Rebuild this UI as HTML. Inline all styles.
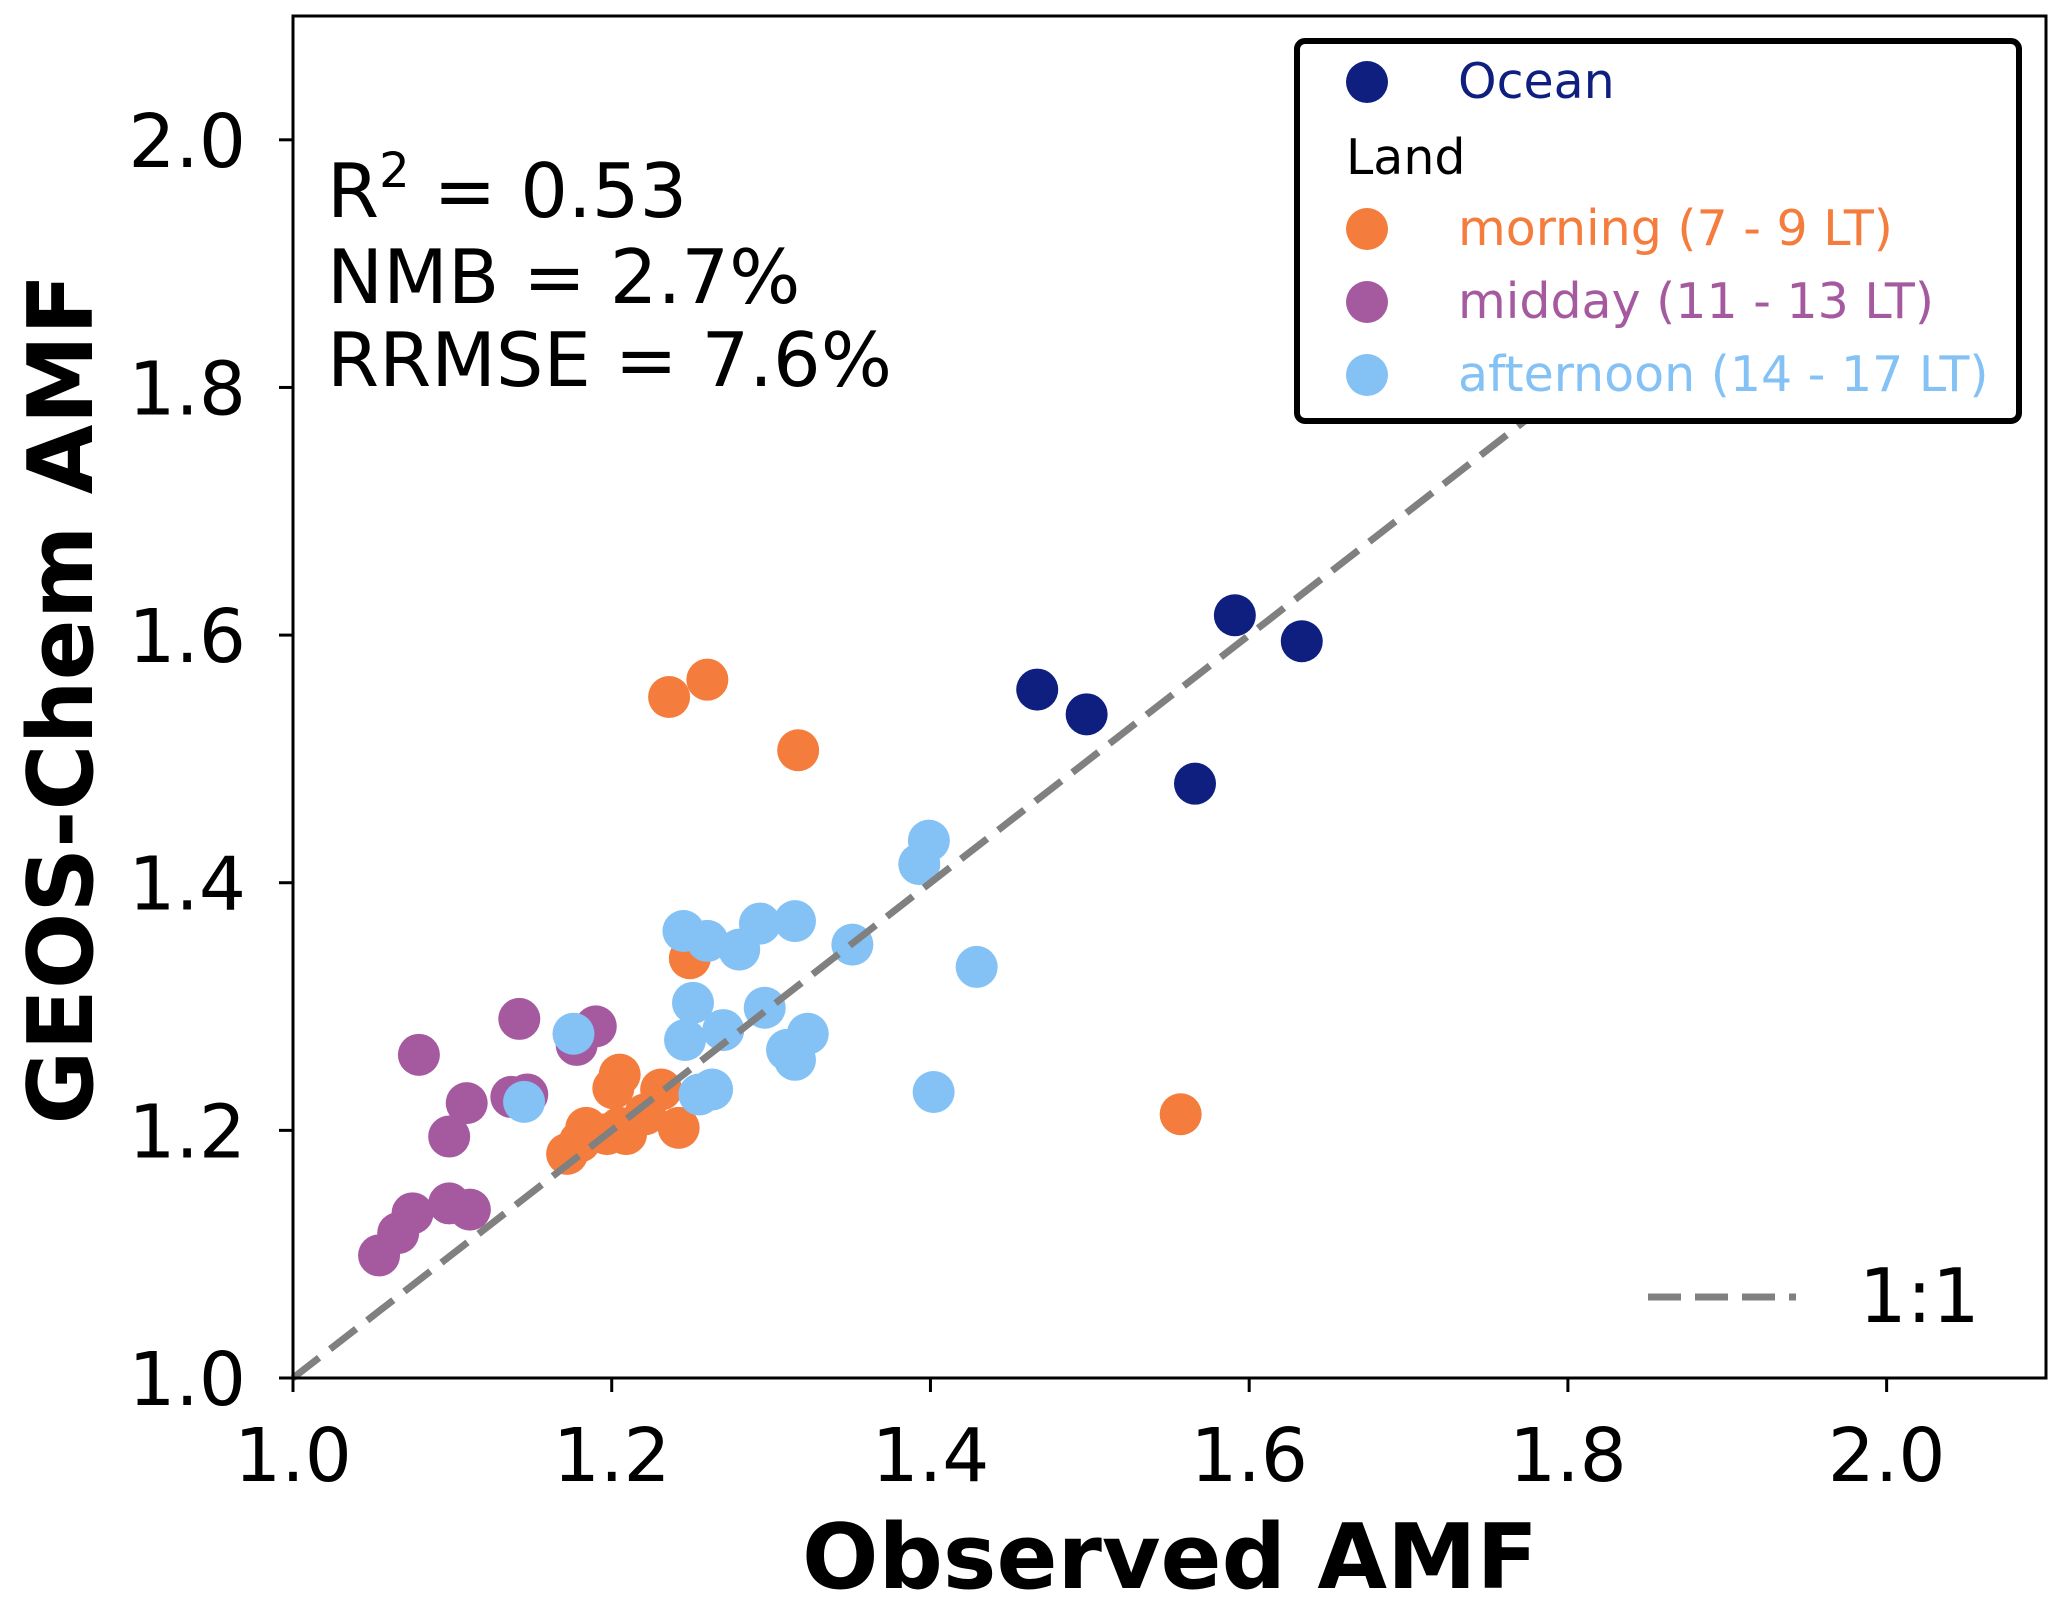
<!DOCTYPE html>
<html><head><meta charset="utf-8"><style>
html,body{margin:0;padding:0;background:#fff;}
svg{display:block;font-family:"DejaVu Sans","Liberation Sans",sans-serif;}
</style></head><body>
<svg id="chart" width="2067" height="1602" viewBox="0 0 2067 1602" xmlns="http://www.w3.org/2000/svg">
<g id="points"></g>
<line id="oneone" stroke="#808080" stroke-width="7" stroke-dasharray="33,14"/>
<rect x="293" y="16" width="1753" height="1362" fill="none" stroke="#000" stroke-width="3"/>
<g id="ticks"></g>
<text x="1170" y="1588" font-size="90" font-weight="bold" text-anchor="middle">Observed AMF</text>
<text transform="translate(92,699) rotate(-90)" font-size="90" font-weight="bold" text-anchor="middle">GEOS-Chem AMF</text>
<g font-size="75">
<text x="327" y="217">R<tspan font-size="48" dy="-30">2</tspan><tspan dy="30"> = 0.53</tspan></text>
<text x="327" y="303">NMB = 2.7%</text>
<text x="327" y="386">RRMSE = 7.6%</text>
</g>
<g>
<rect x="1297" y="41" width="722" height="380" rx="8" fill="#fff" stroke="#000" stroke-width="6"/>
<circle cx="1367" cy="82" r="21" fill="#0f1f80"/>
<text x="1458" y="98" font-size="49" fill="#0f1f80">Ocean</text>
<text x="1346" y="174" font-size="49" fill="#000">Land</text>
<circle cx="1367" cy="229" r="21" fill="#f47c3c"/>
<text x="1458" y="245" font-size="49" fill="#f47c3c">morning (7 - 9 LT)</text>
<circle cx="1367" cy="302" r="21" fill="#a55aa0"/>
<text x="1458" y="318" font-size="49" fill="#a55aa0">midday (11 - 13 LT)</text>
<circle cx="1367" cy="375" r="21" fill="#84c1f5"/>
<text x="1458" y="391" font-size="49" fill="#84c1f5">afternoon (14 - 17 LT)</text>
</g>
<g>
<line x1="1648" y1="1297" x2="1796" y2="1297" stroke="#808080" stroke-width="7" stroke-dasharray="33,14"/>
<text x="1859" y="1322" font-size="75">1:1</text>
</g>
</svg>
<script>
const xTicks = [1.0, 1.2, 1.4, 1.6, 1.8, 2.0];
const yTicks = [1.0, 1.2, 1.4, 1.6, 1.8, 2.0];
const oceanX = [1.591, 1.633, 1.467, 1.498, 1.566];
const oceanY = [1.616, 1.595, 1.556, 1.536, 1.480];
const morningX = [1.236, 1.260, 1.317, 1.249, 1.557, 1.172, 1.184, 1.197, 1.205, 1.201, 1.205, 1.221, 1.231, 1.242, 1.180, 1.209];
const morningY = [1.550, 1.564, 1.507, 1.339, 1.213, 1.181, 1.202, 1.197, 1.202, 1.234, 1.245, 1.213, 1.233, 1.202, 1.191, 1.197];
const middayX = [1.054, 1.066, 1.075, 1.098, 1.111, 1.098, 1.109, 1.079, 1.137, 1.147, 1.142, 1.190, 1.178];
const middayY = [1.099, 1.117, 1.133, 1.141, 1.136, 1.195, 1.222, 1.261, 1.227, 1.229, 1.290, 1.284, 1.269];
const afternoonX = [1.145, 1.176, 1.245, 1.260, 1.280, 1.293, 1.315, 1.351, 1.393, 1.399, 1.429, 1.402, 1.251, 1.296, 1.246, 1.270, 1.310, 1.323, 1.315, 1.255, 1.263];
const afternoonY = [1.223, 1.278, 1.361, 1.353, 1.346, 1.367, 1.369, 1.350, 1.415, 1.434, 1.332, 1.231, 1.303, 1.299, 1.273, 1.281, 1.265, 1.278, 1.257, 1.229, 1.233];
const lineRange = [1.0, 2.0];

const NS = "http://www.w3.org/2000/svg";
const X0 = 293, X1 = 2046, Y0 = 1378, Y1 = 16, VMIN = 1.0, VMAX = 2.1;
function sx(v){ return X0 + (v - VMIN) / (VMAX - VMIN) * (X1 - X0); }
function sy(v){ return Y0 - (v - VMIN) / (VMAX - VMIN) * (Y0 - Y1); }

const pts = document.getElementById('points');
function drawSeries(xs, ys, color, name){
  for (let i = 0; i < xs.length; i++){
    const c = document.createElementNS(NS, 'circle');
    c.setAttribute('cx', sx(xs[i]));
    c.setAttribute('cy', sy(ys[i]));
    c.setAttribute('r', 21);
    c.setAttribute('fill', color);
    
    
    pts.appendChild(c);
  }
}
drawSeries(oceanX, oceanY, '#0f1f80', 'ocean');
drawSeries(morningX, morningY, '#f47c3c', 'morning');
drawSeries(middayX, middayY, '#a55aa0', 'midday');
drawSeries(afternoonX, afternoonY, '#84c1f5', 'afternoon');

const l = document.getElementById('oneone');
l.setAttribute('x1', sx(lineRange[0])); l.setAttribute('y1', sy(lineRange[0]));
l.setAttribute('x2', sx(lineRange[1])); l.setAttribute('y2', sy(lineRange[1]));

const tg = document.getElementById('ticks');
xTicks.forEach(v => {
  const t = document.createElementNS(NS, 'line');
  t.setAttribute('x1', sx(v)); t.setAttribute('x2', sx(v));
  t.setAttribute('y1', Y0); t.setAttribute('y2', Y0 + 14);
  t.setAttribute('stroke', '#000'); t.setAttribute('stroke-width', 3);
  
  
  tg.appendChild(t);
  const s = document.createElementNS(NS, 'text');
  s.setAttribute('x', sx(v)); s.setAttribute('y', 1481);
  s.setAttribute('font-size', 74); s.setAttribute('text-anchor', 'middle');
  s.textContent = v.toFixed(1);
  
  
  tg.appendChild(s);
});
yTicks.forEach(v => {
  const t = document.createElementNS(NS, 'line');
  t.setAttribute('y1', sy(v)); t.setAttribute('y2', sy(v));
  t.setAttribute('x1', X0); t.setAttribute('x2', X0 - 14);
  t.setAttribute('stroke', '#000'); t.setAttribute('stroke-width', 3);
  
  
  tg.appendChild(t);
  const s = document.createElementNS(NS, 'text');
  s.setAttribute('x', 246); s.setAttribute('y', sy(v) + 27);
  s.setAttribute('font-size', 74); s.setAttribute('text-anchor', 'end');
  s.textContent = v.toFixed(1);
  
  
  tg.appendChild(s);
});
</script>
</body></html>
